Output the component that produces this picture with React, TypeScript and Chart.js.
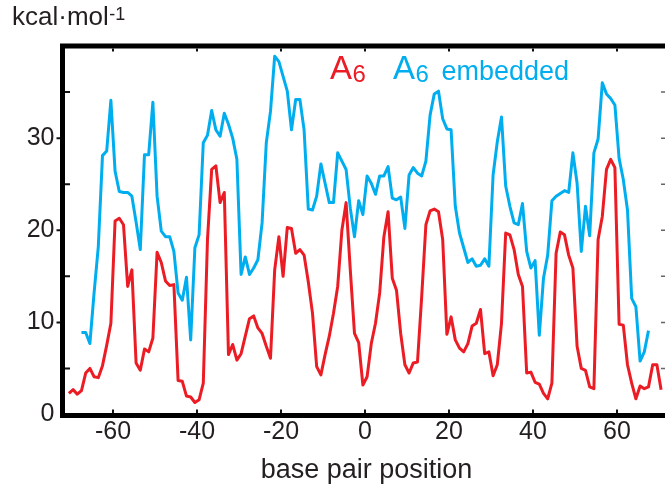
import React, { useEffect, useRef } from 'react';
import { Chart, registerables } from 'chart.js';

Chart.register(...registerables);

// A6 (red): base-pair steps from -70.5 to 70.5
const A6_START = -70.5;
const A6_VALUES = [
  2.3, 2.7, 2.2, 2.6, 4.5, 5.0, 4.1, 4.0, 5.3, 7.5,
  9.9, 21.0, 21.3, 20.6, 13.9, 15.7, 5.6, 4.8, 7.1, 6.8,
  8.3, 17.6, 16.5, 14.5, 14.0, 14.1, 3.7, 3.6, 2.0, 1.9,
  1.3, 1.6, 3.4, 19.0, 26.6, 27.0, 23.0, 24.1, 6.5, 7.6,
  5.9, 6.6, 8.5, 10.4, 10.7, 9.4, 8.8, 7.4, 6.1, 15.7,
  19.3, 15.0, 20.3, 20.2, 17.5, 17.9, 17.3, 14.4, 11.0, 5.2,
  4.3, 6.5, 8.5, 11.0, 13.9, 20.0, 23.0, 15.7, 8.8, 7.8,
  3.2, 4.1, 7.7, 9.9, 13.2, 19.3, 22.0, 14.8, 13.5, 8.8,
  5.4, 4.5, 5.6, 5.7, 12.8, 20.6, 22.1, 22.3, 22.0, 19.0,
  8.7, 10.6, 8.1, 7.2, 6.8, 7.7, 9.6, 9.9, 11.4, 6.6,
  6.8, 4.2, 5.4, 9.9, 19.7, 19.5, 17.9, 15.2, 13.9, 4.5,
  4.6, 3.5, 3.3, 2.3, 1.7, 3.4, 17.5, 19.8, 19.5, 17.3,
  15.9, 7.4, 5.0, 4.8, 3.0, 2.8, 19.0, 21.5, 26.6, 27.7,
  26.8, 9.8, 9.7, 5.4, 3.4, 1.7, 3.1, 2.8, 3.0, 5.4,
  5.4, 2.7,
];

// A6 embedded (cyan): base-pair steps from -67.5 to 67.5
const EMB_START = -67.5;
const EMB_VALUES = [
  8.9, 8.9, 7.7, 13.2, 18.2, 28.1, 28.6, 34.1, 26.4, 24.2,
  24.1, 24.1, 23.7, 20.9, 17.9, 28.2, 28.2, 33.9, 23.7, 19.9,
  19.3, 19.3, 17.7, 13.2, 12.4, 14.9, 8.1, 18.1, 19.5, 29.5,
  30.3, 33.0, 30.9, 30.2, 32.7, 31.5, 30.0, 27.7, 15.2, 17.1,
  15.2, 15.9, 16.8, 20.8, 29.5, 32.9, 38.9, 38.3, 36.7, 35.1,
  30.9, 34.2, 34.2, 30.9, 22.3, 22.2, 23.7, 27.2, 25.1, 23.0,
  23.0, 28.4, 27.5, 26.6, 22.4, 19.3, 23.2, 21.7, 25.9, 25.1,
  23.9, 25.9, 25.9, 26.9, 23.5, 23.3, 23.6, 20.2, 26.0, 26.8,
  26.2, 25.9, 27.5, 32.5, 34.8, 35.1, 32.1, 31.0, 30.9, 22.6,
  19.7, 18.1, 16.5, 16.9, 16.1, 16.2, 16.9, 16.1, 26.0, 29.6,
  32.3, 24.8, 22.6, 20.8, 20.6, 22.9, 17.7, 15.9, 16.7, 8.6,
  14.8, 17.3, 23.2, 23.7, 24.0, 24.3, 24.1, 28.4, 25.1, 17.7,
  22.6, 19.4, 28.4, 29.9, 36.0, 34.8, 34.3, 33.6, 27.8, 25.5,
  22.2, 12.6, 11.7, 5.8, 6.8, 9.1,
];

const X_TICKS = [-60, -40, -20, 0, 20, 40, 60];
const Y_TICKS = [0, 10, 20, 30];
const Y_MINOR = [5, 15, 25, 35];
const Y_RIGHT = [5, 10, 15, 20, 25, 30, 35];

const RED = '#EC1C24';
const CYAN = '#00AEEF';
const TEXT = '#231F20';
const FONT = '"Liberation Sans", Arial, Helvetica, sans-serif';

const toPoints = (start: number, values: number[]) =>
  values.map((v, i) => ({ x: start + i, y: v }));

const drawSubLabel = (
  ctx: CanvasRenderingContext2D,
  x: number,
  color: string,
) => {
  ctx.fillStyle = color;
  ctx.font = `33px ${FONT}`;
  ctx.fillText('A', x, 78.5);
  const wa = ctx.measureText('A').width;
  ctx.font = `24px ${FONT}`;
  ctx.fillText('6', x + wa + 0.5, 82);
};

const framePlugin = {
  id: 'frame',
  afterDatasetsDraw(chart: any) {
    const { ctx, chartArea: a, scales } = chart;
    const xs = scales.x;
    const ys = scales.y;
    ctx.save();
    // spines
    ctx.strokeStyle = '#000';
    ctx.lineWidth = 5;
    ctx.lineCap = 'butt';
    ctx.beginPath();
    ctx.moveTo(a.left - 2.5, a.top);
    ctx.lineTo(a.right + 10, a.top);
    ctx.moveTo(a.left, a.top - 2.5);
    ctx.lineTo(a.left, a.bottom + 3.5);
    ctx.moveTo(a.left - 2.5, a.bottom + 1);
    ctx.lineTo(a.right + 10, a.bottom + 1);
    ctx.stroke();

    // ticks
    ctx.lineWidth = 2;
    ctx.strokeStyle = '#111';
    ctx.beginPath();
    X_TICKS.forEach((t) => {
      const px = xs.getPixelForValue(t);
      ctx.moveTo(px, a.bottom - 1.5);
      ctx.lineTo(px, a.bottom - 5);
      ctx.moveTo(px, a.top + 2.5);
      ctx.lineTo(px, a.top + 5.5);
    });
    Y_MINOR.forEach((t) => {
      const py = ys.getPixelForValue(t);
      ctx.moveTo(a.left + 2.5, py);
      ctx.lineTo(a.left + 7.5, py);
    });
    Y_TICKS.forEach((t) => {
      if (t === 0) return;
      const py = ys.getPixelForValue(t);
      ctx.moveTo(a.left - 2.5, py);
      ctx.lineTo(a.left - 6, py);
    });
    ctx.stroke();
    ctx.strokeStyle = '#666';
    ctx.lineWidth = 1.5;
    ctx.beginPath();
    Y_RIGHT.forEach((t) => {
      const py = ys.getPixelForValue(t);
      ctx.moveTo(a.right - 4, py);
      ctx.lineTo(a.right, py);
    });
    ctx.stroke();

    // legend
    ctx.textBaseline = 'alphabetic';
    ctx.textAlign = 'left';
    drawSubLabel(ctx, 330, RED);
    drawSubLabel(ctx, 393, CYAN);
    ctx.fillStyle = CYAN;
    ctx.font = `27px ${FONT}`;
    ctx.fillText('embedded', 441.5, 80);

    // axis titles
    ctx.fillStyle = TEXT;
    ctx.font = `26px ${FONT}`;
    ctx.fillText('kcal·mol', 12, 25);
    const w = ctx.measureText('kcal·mol').width;
    ctx.font = `18px ${FONT}`;
    ctx.fillText('-1', 12 + w + 0.5, 20);
    ctx.font = `27px ${FONT}`;
    ctx.textAlign = 'center';
    ctx.fillText('base pair position', 366.5, 478);
    ctx.restore();
  },
};

export default function App() {
  const canvasRef = useRef<HTMLCanvasElement | null>(null);

  useEffect(() => {
    if (!canvasRef.current) return;
    const chart = new Chart(canvasRef.current, {
      type: 'line',
      data: {
        datasets: [
          {
            label: 'A6',
            data: toPoints(A6_START, A6_VALUES),
            borderColor: RED,
            borderWidth: 3,
            pointRadius: 0,
            tension: 0,
            fill: false,
            borderJoinStyle: 'round',
          },
          {
            label: 'A6 embedded',
            data: toPoints(EMB_START, EMB_VALUES),
            borderColor: CYAN,
            borderWidth: 3,
            pointRadius: 0,
            tension: 0,
            fill: false,
            borderJoinStyle: 'round',
          },
        ],
      },
      options: {
        animation: false,
        responsive: true,
        maintainAspectRatio: false,
        layout: { padding: { top: 46, right: 0, left: 0, bottom: 0 } },
        plugins: {
          legend: { display: false },
          title: { display: false },
          tooltip: { enabled: false },
        },
        scales: {
          x: {
            type: 'linear',
            min: -72.02,
            max: 71.43,
            grid: { display: false, drawTicks: false },
            border: { display: false },
            afterBuildTicks: (scale: any) => {
              scale.ticks = X_TICKS.map((v) => ({ value: v }));
            },
            afterFit: (scale: any) => {
              scale.height = 72.5;
            },
            ticks: {
              padding: 3,
              color: TEXT,
              font: { family: FONT, size: 25 },
              maxRotation: 0,
              autoSkip: false,
              callback: (v: any) => String(v),
            },
          },
          y: {
            type: 'linear',
            min: 0,
            max: 40,
            grid: { display: false, drawTicks: false },
            border: { display: false },
            afterBuildTicks: (scale: any) => {
              scale.ticks = Y_TICKS.map((v) => ({ value: v }));
            },
            afterFit: (scale: any) => {
              scale.width = 62.5;
            },
            ticks: {
              padding: 8,
              color: TEXT,
              font: { family: FONT, size: 25 },
              callback: (v: any) => String(v),
            },
          },
        },
      },
      plugins: [framePlugin],
    });
    return () => chart.destroy();
  }, []);

  return (
    <div
      style={{
        position: 'fixed',
        left: 0,
        top: 0,
        width: '665px',
        height: '487px',
        background: '#fff',
      }}
    >
      <canvas ref={canvasRef} />
    </div>
  );
}
